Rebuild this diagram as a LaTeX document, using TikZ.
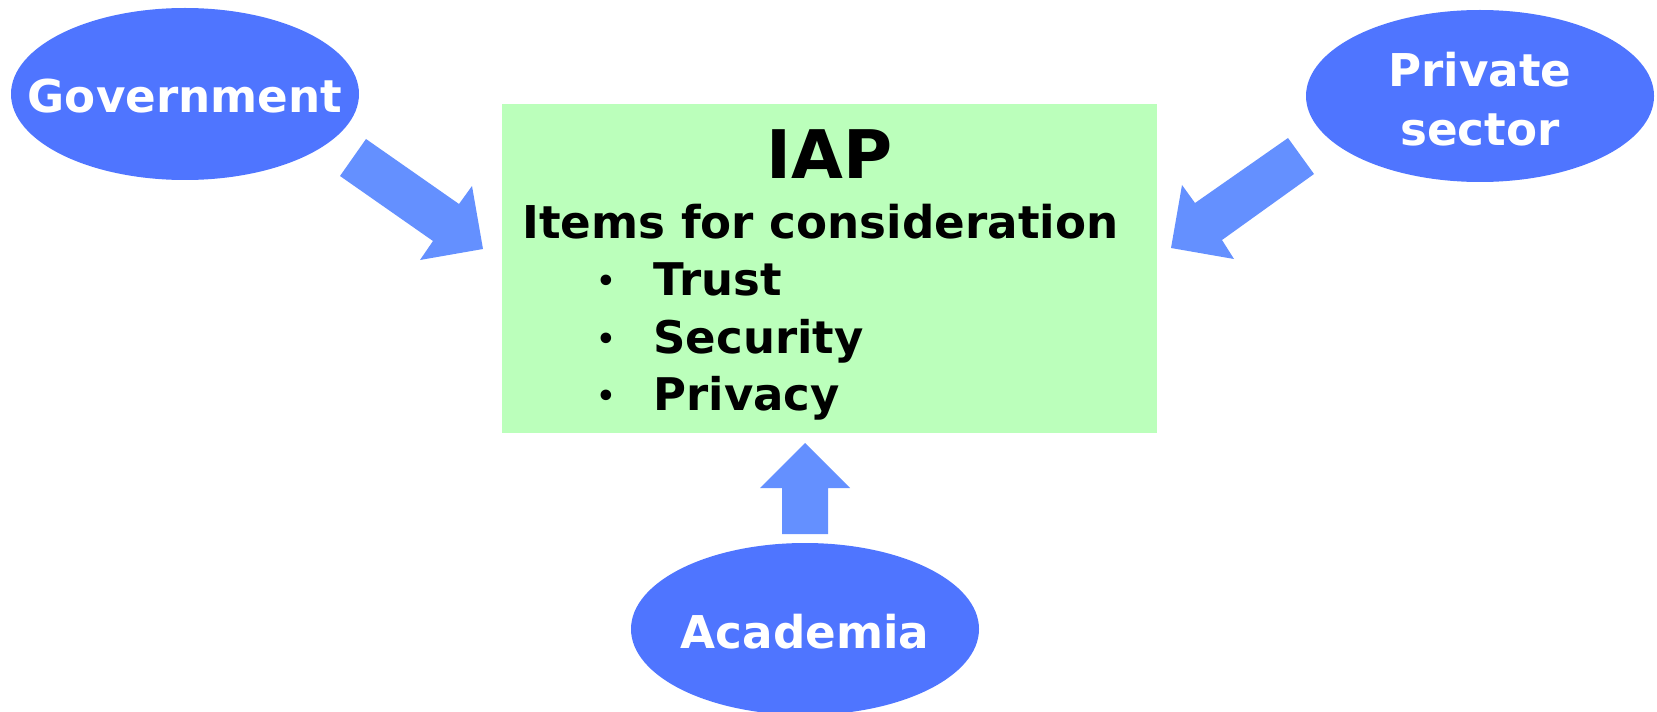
\documentclass[tikz,border=0pt]{standalone}
\usepackage{fontspec}
\setmainfont{DejaVu Sans}
\usetikzlibrary{shapes.geometric}
\definecolor{ellblue}{HTML}{4F75FF}
\definecolor{arrblue}{HTML}{6490FF}
\definecolor{boxgreen}{HTML}{BBFFBB}
\tikzset{
  party/.style={ellipse, fill=ellblue, draw=none, inner sep=0pt,
    minimum width=174pt, minimum height=86pt},
  partytext/.style={text=white, font=\fontsize{22.6}{29.5}\selectfont\bfseries,
    inner sep=0pt, anchor=base, align=center},
  boxtext/.style={text=black, font=\fontsize{22.5}{28}\selectfont\bfseries,
    inner sep=0pt, anchor=base west},
  bullettext/.style={text=black, font=\fontsize{15}{20}\selectfont\bfseries,
    inner sep=0pt, anchor=base},
  blockarrow/.style={fill=arrblue, draw=none},
}
\begin{document}
\begin{tikzpicture}[x=0.5pt, y=-0.5pt]
\useasboundingbox (0,0) rectangle (1657,711);
% central box
\node[fill=boxgreen, draw=none, inner sep=0pt, minimum width=327.5pt,
  minimum height=164.5pt] (box) at (829.5,268.5) {};
\node[text=black, font=\fontsize{33.5}{36}\selectfont\bfseries, inner sep=0pt,
  anchor=base] (iap) at (829.5,178) {IAP};
\node[boxtext, font=\fontsize{22.6}{26}\selectfont\bfseries] (items) at (522,238) {Items for consideration};
\node[bullettext] (b1) at (606,291) {•};
\node[bullettext] (b2) at (606,349) {•};
\node[bullettext] (b3) at (606,406) {•};
\node[boxtext] (trust) at (653,295) {Trust};
\node[boxtext] (security) at (653,353) {Security};
\node[boxtext] (privacy) at (653,410) {Privacy};
% parties
\node[party] (gov) at (185,94) {};
\node[partytext] (govt) at (185,113) {Government};
\node[party] (priv) at (1480,96) {};
\node[partytext] (privt1) at (1480,87) {Private};
\node[partytext] (privt2) at (1480,146) {sector};
\node[party] (acad) at (805,629) {};
\node[partytext] (acadt) at (805,648) {Academia};
% block arrows
\fill[blockarrow] (366,139) -- (459,204) -- (472,186) -- (483,249) -- (420,260)
  -- (433,241) -- (340,176) -- cycle;
\fill[blockarrow] (1288,138) -- (1195,203) -- (1182,185) -- (1171,248) -- (1234,259)
  -- (1222,240) -- (1314,174) -- cycle;
\fill[blockarrow] (805,443) -- (850,488) -- (828,488) -- (828,534) -- (782,534)
  -- (782,488) -- (760,488) -- cycle;
\end{tikzpicture}
\end{document}
